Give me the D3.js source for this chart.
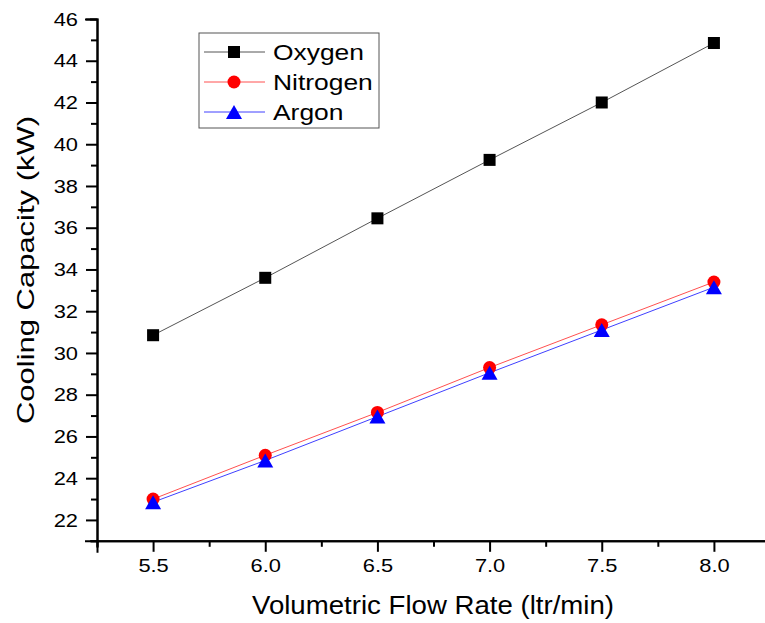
<!DOCTYPE html>
<html>
<head>
<meta charset="utf-8">
<script src="https://cdn.jsdelivr.net/npm/d3@7"></script>
<style>
  body { margin: 0; background: #fff; }
  text { font-family: "Liberation Sans", Arial, sans-serif; fill: #000; }
</style>
</head>
<body>
<svg id="chart" width="765" height="623"></svg>
<script>
// flow rates (ltr/min)
var flowRate = [5.5, 6.0, 6.5, 7.0, 7.5, 8.0];
// cooling capacity (kW)
var oxygen   = [30.85, 33.6, 36.45, 39.25, 42.0, 44.85];
var nitrogen = [23.0, 25.1, 27.15, 29.3, 31.35, 33.4];
var argon    = [22.85, 24.85, 26.95, 29.05, 31.1, 33.15];

var xTicks = [5.5, 6.0, 6.5, 7.0, 7.5, 8.0];
var yTicks = [22, 24, 26, 28, 30, 32, 34, 36, 38, 40, 42, 44, 46];
var seriesNames = ["Oxygen", "Nitrogen", "Argon"];

var svg = d3.select("#chart");

var x = d3.scaleLinear().domain([5.25, 8.25]).range([97, 770]);
var y = d3.scaleLinear().domain([21, 46]).range([540.8, 19]);

var series = [
    { name: seriesNames[0], values: oxygen, color: "#000", line: "#555", shape: "square" },
    { name: seriesNames[1], values: nitrogen, color: "#ff0000", line: "#ff5050", shape: "circle" },
    { name: seriesNames[2], values: argon, color: "#0000ff", line: "#4040ff", shape: "triangle" }
];

// the original text is drawn a bit wider than Arial
function stretch(sel, k) {
    sel.each(function () {
        var w = this.getComputedTextLength();
        d3.select(this).attr("textLength", w * k).attr("lengthAdjust", "spacingAndGlyphs");
    });
}

function marker(g, shape, color) {
    if (shape == "square") {
        g.append("rect").attr("x", -6).attr("y", -6).attr("width", 12).attr("height", 12).attr("fill", color);
    } else if (shape == "circle") {
        g.append("circle").attr("r", 6.5).attr("fill", color);
    } else {
        g.append("path").attr("d", "M0,-7L8,7L-8,7Z").attr("fill", color);
    }
}

// axes
var xAxis = d3.axisBottom(x).tickValues(xTicks).tickFormat(d3.format(".1f")).tickSize(11).tickPadding(7);
var xMinor = d3.axisBottom(x).tickValues([5.25, 5.75, 6.25, 6.75, 7.25, 7.75]).tickFormat("").tickSize(6);
var yAxis = d3.axisLeft(y).tickValues(yTicks).tickFormat(d3.format("d")).tickSize(11).tickPadding(8);
var yMinor = d3.axisLeft(y).tickValues(d3.range(21, 46, 2)).tickFormat("").tickSize(6);

function styleAxis(g) {
    g.selectAll("path").attr("stroke", "#000").attr("stroke-width", 2);
    g.selectAll("line").attr("stroke", "#000").attr("stroke-width", 2);
    g.selectAll("text").style("font-size", "19px").attr("fill", "#000").call(stretch, 1.15);
}

svg.append("g").attr("transform", "translate(0," + y(21) + ")").call(xAxis).call(styleAxis);
svg.append("g").attr("transform", "translate(0," + y(21) + ")").call(xMinor).call(styleAxis);
svg.append("g").attr("transform", "translate(" + x(5.25) + ",0)").call(yAxis).call(styleAxis);
svg.append("g").attr("transform", "translate(" + x(5.25) + ",0)").call(yMinor).call(styleAxis);
svg.selectAll(".domain").attr("stroke-linecap", "square");

// lines and markers
var line = d3.line().x((d, i) => x(flowRate[i])).y(d => y(d));

series.forEach(function (s) {
    svg.append("path")
        .datum(s.values)
        .attr("fill", "none")
        .attr("stroke", s.line)
        .attr("stroke-width", 1)
        .attr("d", line);
});
series.forEach(function (s) {
    s.values.forEach(function (v, i) {
        var g = svg.append("g").attr("transform", "translate(" + x(flowRate[i]) + "," + y(v) + ")");
        marker(g, s.shape, s.color);
    });
});

// legend
var lg = svg.append("g").attr("transform", "translate(199,33)");
lg.append("rect").attr("width", 180).attr("height", 95)
    .attr("fill", "#fff").attr("stroke", "#555").attr("stroke-width", 1);
series.forEach(function (s, i) {
    var row = lg.append("g").attr("transform", "translate(0," + (19 + i * 30) + ")");
    row.append("line").attr("x1", 5).attr("x2", 66).attr("stroke", s.line).attr("stroke-width", 1);
    var m = row.append("g").attr("transform", "translate(35,0)");
    marker(m, s.shape, s.color);
    row.append("text").attr("x", 74).attr("y", 8).style("font-size", "22px").text(s.name)
        .call(stretch, 1.2);
});

// axis titles
svg.append("text")
    .attr("x", 433).attr("y", 614)
    .attr("text-anchor", "middle")
    .style("font-size", "25px")
    .text("Volumetric Flow Rate (ltr/min)")
    .attr("textLength", 362).attr("lengthAdjust", "spacingAndGlyphs");

svg.append("text")
    .attr("transform", "translate(34,270) rotate(-90)")
    .attr("text-anchor", "middle")
    .style("font-size", "24px")
    .text("Cooling Capacity (kW)")
    .attr("textLength", 308).attr("lengthAdjust", "spacingAndGlyphs");
</script>
</body>
</html>
